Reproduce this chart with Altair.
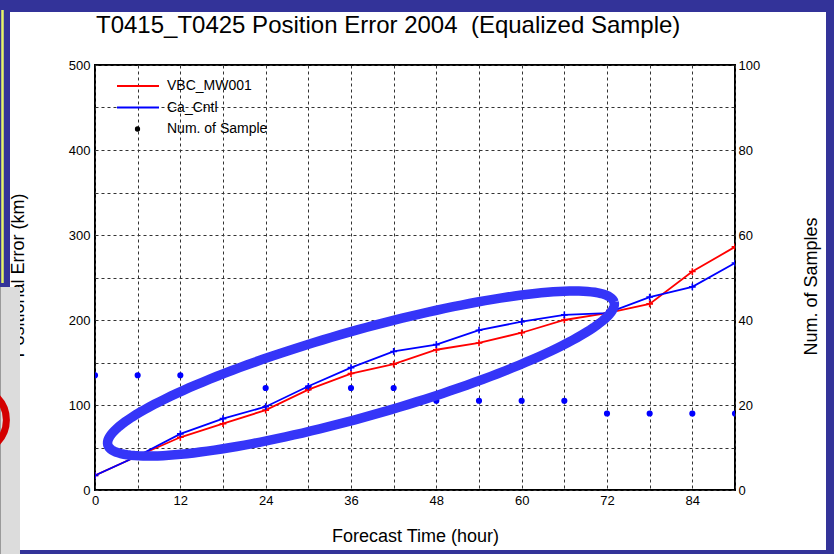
import altair as alt
import pandas as pd
import numpy as np

# ---------------- data ----------------
hours = [0, 6, 12, 18, 24, 30, 36, 42, 48, 54, 60, 66, 72, 78, 84, 90]
vbc_mw001 = [17, 40, 62, 78, 94, 118, 137, 148, 165, 173, 185, 200, 208, 219, 257, 286]
ca_cntl = [17, 40, 66, 84, 98, 122, 144, 163, 171, 188, 198, 206, 208, 227, 239, 267]
num_samples = [27, 27, 27, 27, 24, 24, 24, 24, 21, 21, 21, 21, 18, 18, 18, 18]

series_names = ["VBC_MW001", "Ca_Cntl", "Num. of Sample"]
series_colors = ["#ff0000", "#0000ff", "#000000"]

x_ticks = list(range(0, 91, 6))
km_ticks = list(range(0, 501, 50))
n_ticks = list(range(0, 101, 20))

title_text = "T0415_T0425 Position Error 2004 \u00a0(Equalized Sample)"

# annotation ellipse: centre in data units, semi-axes in pixels, tilt in degrees
ell_center_hour = 37.4
ell_center_km = 137
ell_a_px = 263
ell_b_px = 43
ell_tilt_deg = 15.75

# ---------------- layout constants ----------------
W, H = 640, 425
PAD = {"left": 95, "top": 65, "right": 99, "bottom": 64}
px_per_hour = W / 90
px_per_km = H / 500

FONT = "Liberation Sans"
SLIDE_BLUE = "#333399"
ELL_BLUE = "#3535f8"

# ---------------- tables ----------------
df_lines = pd.concat([
    pd.DataFrame({"hour": hours, "km": vbc_mw001, "series": series_names[0]}),
    pd.DataFrame({"hour": hours, "km": ca_cntl, "series": series_names[1]}),
])
df_samples = pd.DataFrame({"hour": hours, "n": num_samples})

t = np.linspace(0, 2 * np.pi, 181)
th = np.deg2rad(ell_tilt_deg)
dx = ell_a_px * np.cos(th) * np.cos(t) - ell_b_px * np.sin(th) * np.sin(t)
dy = ell_a_px * np.sin(th) * np.cos(t) + ell_b_px * np.cos(th) * np.sin(t)
df_ell = pd.DataFrame({
    "hour": ell_center_hour + dx / px_per_hour,
    "km": ell_center_km + dy / px_per_km,
    "i": np.arange(len(t)),
})

one = pd.DataFrame({"a": [0]})

# ---------------- axes ----------------
grid_kw = dict(grid=True, gridDash=[3, 3], gridColor="#333333", gridWidth=1, gridOpacity=1)

x_enc = alt.X(
    "hour:Q",
    scale=alt.Scale(domain=[0, 90], nice=False, zero=False),
    axis=alt.Axis(
        values=x_ticks, labelExpr="datum.value % 12 == 0 ? datum.label : ''",
        ticks=False, domain=False, labelFontSize=13, labelPadding=4, labelColor="#000",
        title="Forecast Time (hour)", titleFontSize=18, titleFontWeight="normal",
        titleColor="#000", titleX=W / 2, titleY=51, titleBaseline="alphabetic",
        labelFlush=False, **grid_kw,
    ),
)

left_axis = alt.Axis(
    orient="left", values=km_ticks,
    labelExpr="datum.value % 100 == 0 ? datum.label : ''",
    ticks=False, domain=False, labelFontSize=13, labelPadding=5, labelColor="#000",
    title="Positional Error (km)", titleFontSize=18, titleFontWeight="normal",
    titleColor="#000", titleX=-68, titleY=210, titleBaseline="bottom", titleAngle=270,
    labelFlush=False, **grid_kw,
)
km_scale = alt.Scale(domain=[0, 500], nice=False, zero=False)

right_axis = alt.Axis(
    orient="right", values=n_ticks, grid=False, ticks=False, domain=False,
    labelFontSize=13, labelPadding=3, labelColor="#000", labelFlush=False,
    title="Num. of Samples", titleFontSize=18, titleFontWeight="normal",
    titleColor="#000", titleX=85, titleY=221, titleBaseline="bottom", titleAngle=270,
)

color_enc = alt.Color("series:N", scale=alt.Scale(domain=series_names[:2], range=series_colors[:2]), legend=None)

# ---------------- layers ----------------
lines = alt.Chart(df_lines).mark_line(strokeWidth=1.8, clip=True).encode(
    x=x_enc, y=alt.Y("km:Q", scale=km_scale, axis=left_axis), color=color_enc, detail="series:N"
)
plus = alt.Chart(df_lines).mark_point(
    shape="M -1 0 L 1 0 M 0 -1 L 0 1", filled=False, size=45, strokeWidth=1.6, opacity=1, clip=True
).encode(x=x_enc, y=alt.Y("km:Q", scale=km_scale, axis=left_axis), color=color_enc)
ellipse = alt.Chart(df_ell).mark_line(color=ELL_BLUE, strokeWidth=9.5).encode(
    x=x_enc, y=alt.Y("km:Q", scale=km_scale, axis=left_axis), order="i:Q"
)
km_layer = alt.layer(lines, plus, ellipse)

dots = alt.Chart(df_samples).mark_circle(color="#0000ff", size=38, opacity=1, clip=True).encode(
    x=x_enc,
    y=alt.Y("n:Q", scale=alt.Scale(domain=[0, 100], nice=False, zero=False), axis=right_axis),
)

# legend drawn inside the plot (top-left)
legend_layers = []
for i, name in enumerate(series_names):
    yy = 21 + 21.5 * i
    if i < 2:
        legend_layers.append(
            alt.Chart(one).mark_rule(color=series_colors[i], strokeWidth=2).encode(
                x=alt.value(22), x2=alt.value(64), y=alt.value(yy))
        )
    else:
        legend_layers.append(
            alt.Chart(one).mark_point(color=series_colors[i], filled=True, size=28, opacity=1,
                                      shape="circle").encode(x=alt.value(42.5), y=alt.value(yy))
        )
    legend_layers.append(
        alt.Chart(one).mark_text(text=name, align="left", baseline="middle", fontSize=14,
                                 font=FONT, color="#000").encode(x=alt.value(72), y=alt.value(yy))
    )

# slide frame decoration around the chart
def rect(x0, x1, y0, y1, color):
    return alt.Chart(one).mark_rect(color=color, opacity=1).encode(
        x=alt.value(x0), x2=alt.value(x1), y=alt.value(y0), y2=alt.value(y1))

decor = [
    rect(-95, 739, -65, -53, SLIDE_BLUE),
    rect(-95, -85, -65, 222, SLIDE_BLUE),
    rect(731, 739, -65, 489, SLIDE_BLUE),
    rect(-75, 739, 485, 489, SLIDE_BLUE),
    rect(-95, -75, 222, 489, "#dcdcdc"),
    rect(-95, -94, 222, 489, "#9a9a9a"),
    alt.Chart(one).mark_rule(color="#e4f26a", strokeWidth=2.5).encode(
        x=alt.value(-92.5), y=alt.value(-55), y2=alt.value(218)),
    alt.Chart(one).mark_point(shape="circle", filled=False, color="#d40000", size=4200,
                              strokeWidth=7, opacity=1).encode(x=alt.value(-121), y=alt.value(355)),
]

chart = alt.layer(dots, km_layer, *legend_layers, *decor).resolve_scale(
    y="independent"
).properties(
    width=W, height=H,
    autosize=alt.AutoSizeParams(type="none"),
    padding=PAD,
    background="white",
    title=alt.Title(title_text, fontSize=24, fontWeight="normal", font=FONT, color="#000",
                    anchor="start", frame="group", offset=0, dx=1, dy=57,
                    baseline="alphabetic"),
).configure(font=FONT).configure_view(stroke="#000", strokeWidth=2)

chart.save("out.html", embed_options={"renderer": "svg", "actions": False})
